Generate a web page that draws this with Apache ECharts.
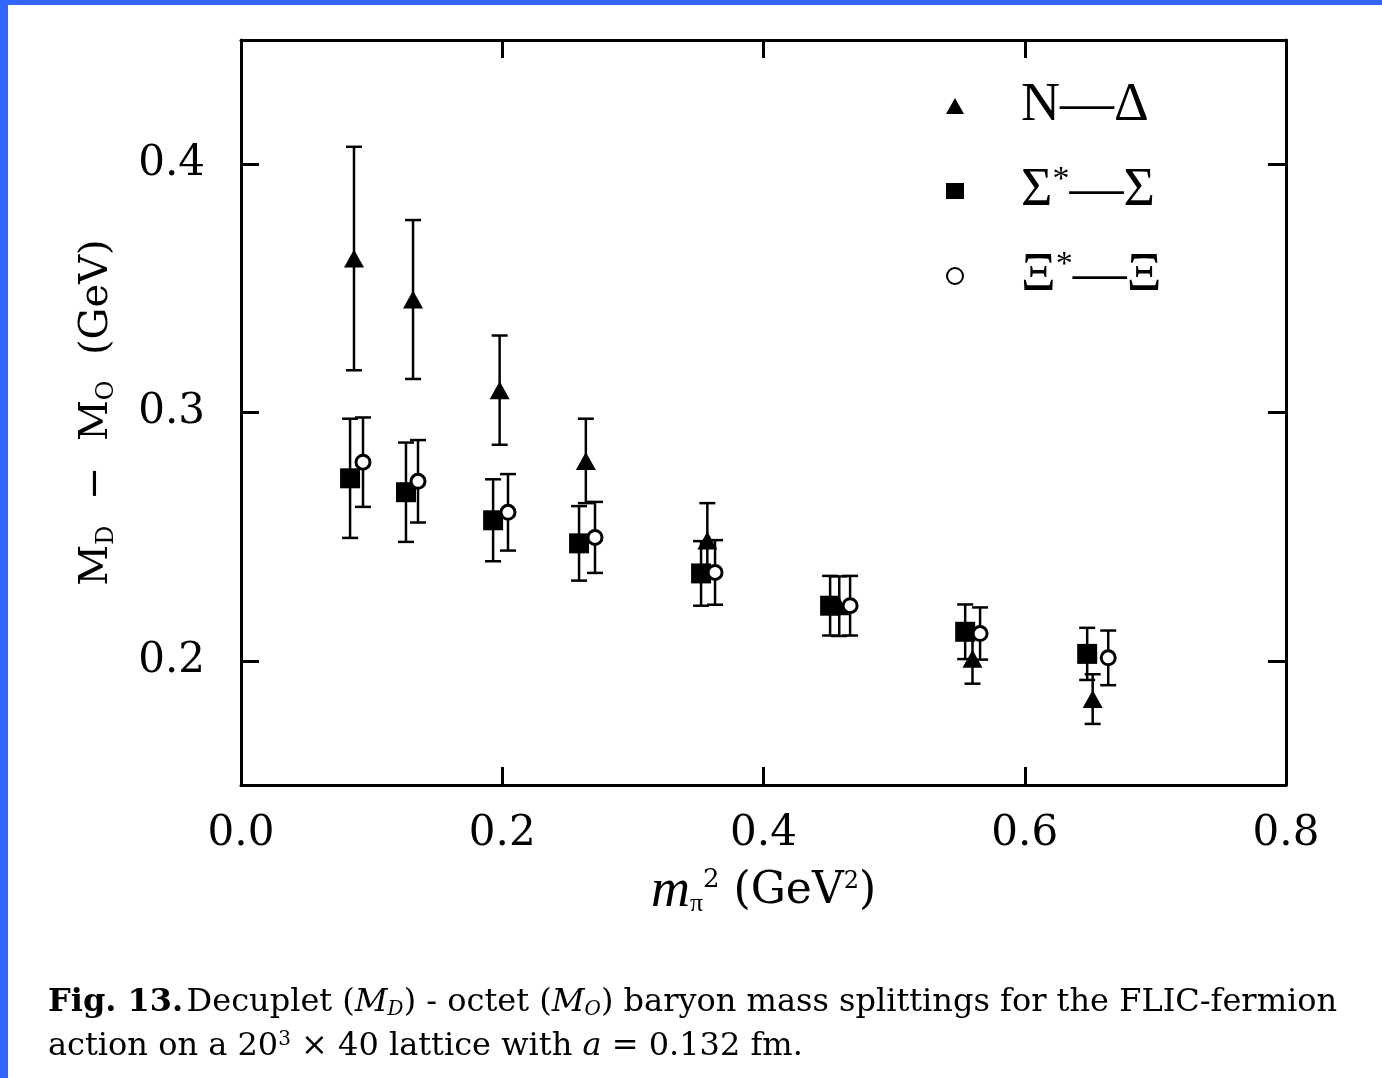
<!DOCTYPE html>
<html>
<head>
<meta charset="utf-8">
<script src="https://cdn.jsdelivr.net/npm/echarts@6/dist/echarts.min.js"></script>
<style>
  html, body { margin: 0; padding: 0; background: #fff; }
  #chart { width: 1382px; height: 1078px; }
</style>
</head>
<body>
<div id="chart"></div>
<script>
// N - Delta
const ndX = [0.0865, 0.1317, 0.198, 0.264, 0.357, 0.458, 0.560, 0.652]
const ndY = [0.362, 0.3455, 0.309, 0.2805, 0.2485, 0.222, 0.2008, 0.1846]
const ndErr = [0.045, 0.032, 0.022, 0.017, 0.015, 0.012, 0.010, 0.010]
// Sigma* - Sigma
const sgX = [0.0835, 0.1263, 0.193, 0.2588, 0.3522, 0.451, 0.5544, 0.6478]
const sgY = [0.2735, 0.2679, 0.2566, 0.2473, 0.2352, 0.2222, 0.2117, 0.2028]
const sgErr = [0.024, 0.020, 0.0165, 0.015, 0.013, 0.012, 0.011, 0.0105]
// Xi* - Xi
const xiX = [0.0934, 0.1355, 0.2044, 0.271, 0.3629, 0.4663, 0.5658, 0.6639]
const xiY = [0.280, 0.2723, 0.2598, 0.2497, 0.2356, 0.2222, 0.211, 0.2012]
const xiErr = [0.018, 0.0166, 0.0154, 0.0143, 0.013, 0.012, 0.0105, 0.011]

const xTicks = [0.2, 0.4, 0.6]
const yTicks = [0.2, 0.3, 0.4]
const seriesNames = ['N—Δ', 'Σ*—Σ', 'Ξ*—Ξ']

const chart = echarts.init(document.getElementById('chart'))

// 点数据
function points (xs, ys) {
  return xs.map((x, i) => [x, ys[i]])
}
// 误差棒数据
function bars (xs, ys, es) {
  return xs.map((x, i) => [x, ys[i] - es[i], ys[i] + es[i]])
}

function renderErr (params, api) {
  const x = api.value(0)
  const lo = api.coord([x, api.value(1)])
  const hi = api.coord([x, api.value(2)])
  const hw = 8
  const style = { stroke: '#000', lineWidth: 2.5 }
  return {
    type: 'group',
    children: [
      { type: 'line', shape: { x1: lo[0], y1: lo[1], x2: hi[0], y2: hi[1] }, style: style },
      { type: 'line', shape: { x1: lo[0] - hw, y1: lo[1], x2: lo[0] + hw, y2: lo[1] }, style: style },
      { type: 'line', shape: { x1: hi[0] - hw, y1: hi[1], x2: hi[0] + hw, y2: hi[1] }, style: style }
    ]
  }
}

const serif = 'Liberation Serif'
const dserif = 'DejaVu Serif'
const axisFont = { fontFamily: dserif, fontSize: 42, color: '#000' }
const lineStyle = { color: '#000', width: 3 }

chart.setOption({
  animation: false,
  backgroundColor: '#fff',
  grid: { left: 241, right: 96, top: 40, bottom: 293 },
  legend: {
    orient: 'vertical',
    left: 941,
    top: 74,
    itemWidth: 18,
    itemHeight: 16,
    itemGap: 30,
    data: [
      { name: seriesNames[0], icon: 'triangle' },
      { name: seriesNames[1], icon: 'rect' },
      { name: seriesNames[2], icon: 'circle' }
    ],
    formatter: function (name) {
      if (name === seriesNames[0]) return '{t|N—Δ}'
      if (name === seriesNames[1]) return '{t|Σ}{s|*}{t|—Σ}'
      return '{t|Ξ}{s|*}{t|—Ξ}'
    },
    textStyle: {
      padding: [0, 0, 0, 52],
      rich: {
        t: { fontFamily: serif, fontSize: 54, color: '#000', lineHeight: 56 },
        s: { fontFamily: serif, fontSize: 34, color: '#000', padding: [0, 0, 22, 0] }
      }
    }
  },
  xAxis: [
    {
      type: 'value',
      min: 0,
      max: 0.8,
      interval: 0.2,
      position: 'bottom',
      name: '{i|m}{sub|π}{sup|2}{t| (GeV}{sup2|2}{t|)}',
      nameLocation: 'middle',
      nameGap: 80,
      nameTextStyle: {
        rich: {
          i: { fontFamily: serif, fontStyle: 'italic', fontSize: 54, color: '#000' },
          sub: { fontFamily: serif, fontSize: 26, color: '#000', padding: [24, 0, 0, 0] },
          sup: { fontFamily: dserif, fontSize: 26, color: '#000', padding: [0, 0, 24, 0] },
          sup2: { fontFamily: dserif, fontSize: 24, color: '#000', padding: [0, 0, 20, 0] },
          t: { fontFamily: dserif, fontSize: 44, color: '#000' }
        }
      },
      axisLine: { show: true, onZero: false, lineStyle: lineStyle },
      axisTick: { show: true, inside: true, length: 18, customValues: xTicks, lineStyle: lineStyle },
      axisLabel: Object.assign({ margin: 28, formatter: v => v.toFixed(1) }, axisFont),
      splitLine: { show: false }
    },
    {
      type: 'value',
      min: 0,
      max: 0.8,
      position: 'top',
      axisLine: { show: true, onZero: false, lineStyle: lineStyle },
      axisTick: { show: true, inside: true, length: 18, customValues: xTicks, lineStyle: lineStyle },
      axisLabel: { show: false },
      splitLine: { show: false }
    }
  ],
  yAxis: [
    {
      type: 'value',
      min: 0.15,
      max: 0.45,
      position: 'left',
      name: '{t|M}{sub|D}{t|  −  M}{sub|O}{t|  (GeV)}',
      nameLocation: 'middle',
      nameRotate: 90,
      nameGap: 122,
      nameTextStyle: {
        rich: {
          t: { fontFamily: dserif, fontSize: 40, color: '#000' },
          sub: { fontFamily: dserif, fontSize: 24, color: '#000', padding: [20, 0, 0, 0] }
        }
      },
      axisLine: { show: true, onZero: false, lineStyle: lineStyle },
      axisTick: { show: true, inside: true, length: 18, customValues: yTicks, lineStyle: lineStyle },
      axisLabel: Object.assign({ margin: 36, customValues: yTicks, formatter: v => v.toFixed(1) }, axisFont),
      splitLine: { show: false }
    },
    {
      type: 'value',
      min: 0.15,
      max: 0.45,
      position: 'right',
      axisLine: { show: true, onZero: false, lineStyle: lineStyle },
      axisTick: { show: true, inside: true, length: 18, customValues: yTicks, lineStyle: lineStyle },
      axisLabel: { show: false },
      splitLine: { show: false }
    }
  ],
  series: [
    { type: 'custom', renderItem: renderErr, data: bars(ndX, ndY, ndErr), z: 2 },
    { type: 'custom', renderItem: renderErr, data: bars(sgX, sgY, sgErr), z: 2 },
    { type: 'custom', renderItem: renderErr, data: bars(xiX, xiY, xiErr), z: 2 },
    {
      name: seriesNames[0],
      type: 'scatter',
      symbol: 'triangle',
      symbolSize: [20, 18],
      itemStyle: { color: '#000', opacity: 1 },
      data: points(ndX, ndY),
      z: 3
    },
    {
      name: seriesNames[1],
      type: 'scatter',
      symbol: 'rect',
      symbolSize: 20,
      itemStyle: { color: '#000', opacity: 1 },
      data: points(sgX, sgY),
      z: 3
    },
    {
      name: seriesNames[2],
      type: 'scatter',
      symbol: 'circle',
      symbolSize: 14,
      itemStyle: { color: '#fff', borderColor: '#000', borderWidth: 3, opacity: 1 },
      data: points(xiX, xiY),
      z: 4
    }
  ],
  graphic: [
    { type: 'rect', left: 0, top: 0, shape: { width: 1382, height: 5 }, style: { fill: '#3366ff' } },
    { type: 'rect', left: 0, top: 0, shape: { width: 8, height: 1078 }, style: { fill: '#3366ff' } },
    {
      type: 'text',
      left: 48,
      top: 987,
      style: {
        text: '{b|Fig. 13.} {t|Decuplet (}{i|M}{sub|D}{t|) - octet (}{i|M}{sub|O}{t|) baryon mass splittings for the FLIC-fermion}',
        rich: {
          b: { fontFamily: dserif, fontWeight: 'bold', fontSize: 32, fill: '#000' },
          t: { fontFamily: dserif, fontSize: 32, fill: '#000' },
          i: { fontFamily: dserif, fontStyle: 'italic', fontSize: 32, fill: '#000' },
          sub: { fontFamily: dserif, fontStyle: 'italic', fontSize: 20, fill: '#000', padding: [14, 0, 0, 0] }
        }
      }
    },
    {
      type: 'text',
      left: 48,
      top: 1030,
      style: {
        text: '{t|action on a 20}{sup|3}{t| × 40 lattice with }{i|a}{t| = 0.132 fm.}',
        rich: {
          t: { fontFamily: dserif, fontSize: 32, fill: '#000' },
          i: { fontFamily: dserif, fontStyle: 'italic', fontSize: 32, fill: '#000' },
          sup: { fontFamily: dserif, fontSize: 20, fill: '#000', padding: [0, 0, 14, 0] }
        }
      }
    }
  ]
})
</script>
</body>
</html>
